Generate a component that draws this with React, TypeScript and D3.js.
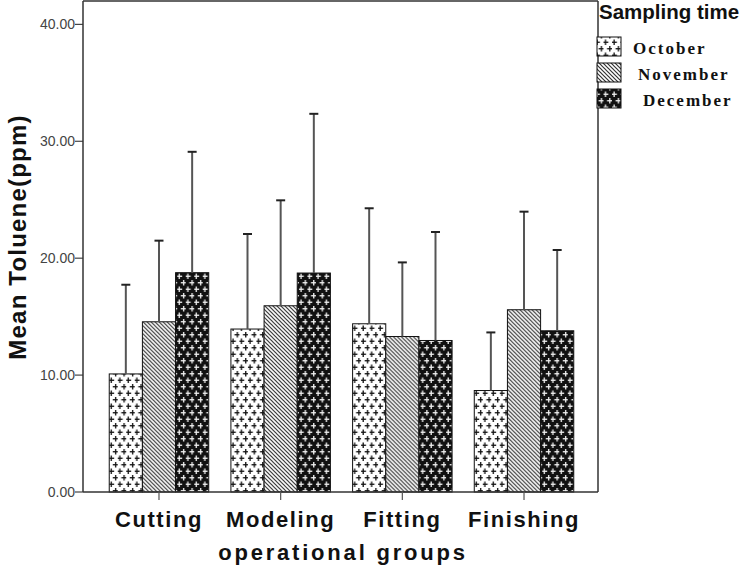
import React from "react";
import * as d3 from "d3";

const categories = ["Cutting", "Modeling", "Fitting", "Finishing"];
const months = ["October", "November", "December"];
const october = [10.1, 13.94, 14.39, 8.68];
const november = [14.56, 15.93, 13.3, 15.59];
const december = [18.76, 18.73, 12.96, 13.79];
const octoberErr = [7.63, 8.13, 9.88, 4.97];
const novemberErr = [6.94, 9.02, 6.34, 8.39];
const decemberErr = [10.34, 13.62, 9.28, 6.91];
const yTicks = [0, 10, 20, 30, 40];

const seriesValues = [october, november, december];
const seriesErrs = [octoberErr, novemberErr, decemberErr];
const patternIds = ["pOct", "pNov", "pDec"];

const W = 745;
const H = 569;
const left = 83;
const right = 598;
const top = 1;
const bottom = 492;

export default function App() {
  const y = d3.scaleLinear().domain([0, 42]).range([bottom, top]);
  const x = d3
    .scaleBand()
    .domain(categories)
    .range([left, 600])
    .paddingInner(0.1824)
    .paddingOuter(0.2157);
  const xi = d3.scaleBand().domain(months).range([0, x.bandwidth()]);
  const fmt = d3.format(".2f");
  const sans = "'Liberation Sans', Arial, sans-serif";
  const serif = "'Liberation Serif', 'Times New Roman', serif";

  const plus = (cx: number, cy: number, color: string, key: string) => (
    <g key={key} stroke={color} strokeWidth={1.3}>
      <line x1={cx - 2.8} x2={cx + 2.8} y1={cy} y2={cy} />
      <line x1={cx} x2={cx} y1={cy - 2.8} y2={cy + 2.8} />
    </g>
  );

  return (
    <svg
      width={W}
      height={H}
      style={{ position: "absolute", left: 0, top: 0, background: "#fff" }}
    >
      <defs>
        <pattern id="pOct" patternUnits="userSpaceOnUse" width={8.5} height={13}>
          <rect width={8.5} height={13} fill="#fff" />
          {plus(2.1, 3.25, "#111", "a")}
          {plus(6.35, 9.75, "#111", "b")}
        </pattern>
        <pattern id="pNov" patternUnits="userSpaceOnUse" width={4} height={4}>
          <rect width={4} height={4} fill="#fff" />
          <g stroke="#333" strokeWidth={1.2}>
            <line x1={0} y1={0} x2={4} y2={4} />
            <line x1={-1} y1={3} x2={1} y2={5} />
            <line x1={3} y1={-1} x2={5} y2={1} />
          </g>
        </pattern>
        <pattern id="pDec" patternUnits="userSpaceOnUse" width={8.5} height={13}>
          <rect width={8.5} height={13} fill="#111" />
          {plus(2.1, 3.25, "#f2f2f2", "a")}
          {plus(6.35, 9.75, "#f2f2f2", "b")}
        </pattern>
      </defs>

      {/* y ticks */}
      {yTicks.map((t) => (
        <g key={t}>
          <line x1={left - 8} x2={left} y1={y(t)} y2={y(t)} stroke="#444" strokeWidth={1.2} />
          <text
            x={left - 8}
            y={y(t)}
            dy="0.35em"
            textAnchor="end"
            fontFamily={sans}
            fontSize={14}
            fill="#444"
          >
            {fmt(t)}
          </text>
        </g>
      ))}

      {/* bars */}
      {categories.map((c, ci) => (
        <g key={c} transform={`translate(${x(c)},0)`}>
          {months.map((m, mi) => {
            const v = seriesValues[mi][ci];
            const e = seriesErrs[mi][ci];
            const bx = xi(m) as number;
            const cx = bx + xi.bandwidth() / 2;
            return (
              <g key={m}>
                <rect
                  x={bx}
                  y={y(v)}
                  width={xi.bandwidth()}
                  height={y(0) - y(v)}
                  fill={`url(#${patternIds[mi]})`}
                  stroke="#111"
                  strokeWidth={1}
                />
                <line x1={cx} x2={cx} y1={y(v)} y2={y(v + e)} stroke="#555" strokeWidth={2} />
                <line
                  x1={cx - 4.5}
                  x2={cx + 4.5}
                  y1={y(v + e)}
                  y2={y(v + e)}
                  stroke="#222"
                  strokeWidth={2}
                />
              </g>
            );
          })}
        </g>
      ))}

      {/* frame and axes */}
      <line x1={left} x2={left} y1={top} y2={bottom} stroke="#333" strokeWidth={1.5} />
      <line x1={left} x2={right} y1={bottom} y2={bottom} stroke="#333" strokeWidth={1.5} />
      <line x1={left} x2={right} y1={top} y2={top} stroke="#333" strokeWidth={1.5} />
      <line x1={right} x2={right} y1={top} y2={bottom} stroke="#333" strokeWidth={1.5} />

      {/* x ticks and labels */}
      {categories.map((c) => {
        const cx = (x(c) as number) + x.bandwidth() / 2;
        return (
          <g key={c}>
            <line x1={cx} x2={cx} y1={bottom} y2={bottom + 8} stroke="#555" strokeWidth={1.2} />
            <text
              x={cx}
              y={527}
              textAnchor="middle"
              fontFamily={sans}
              fontWeight="bold"
              fontSize={22}
              letterSpacing={1.6}
              fill="#111"
            >
              {c}
            </text>
          </g>
        );
      })}

      <text
        x={343}
        y={560}
        textAnchor="middle"
        fontFamily={sans}
        fontWeight="bold"
        fontSize={22}
        letterSpacing={2.8}
        fill="#111"
      >
        operational groups
      </text>

      <text
        transform="translate(26,237) rotate(-90)"
        textAnchor="middle"
        fontFamily={sans}
        fontWeight="bold"
        fontSize={24}
        letterSpacing={1.2}
        fill="#111"
      >
        Mean Toluene(ppm)
      </text>

      {/* legend */}
      <text
        x={599}
        y={19}
        fontFamily={sans}
        fontWeight="bold"
        fontSize={20.5}
        fill="#111"
      >
        Sampling time
      </text>
      {months.map((m, i) => {
        const sy = 37 + i * 26;
        return (
          <g key={m}>
            <rect
              x={597}
              y={sy}
              width={24}
              height={19}
              fill={`url(#${patternIds[i]})`}
              stroke="#111"
              strokeWidth={1}
            />
            <text
              x={633 + i * 5}
              y={sy + 17}
              fontFamily={serif}
              fontWeight="bold"
              fontSize={17}
              letterSpacing={2}
              fill="#111"
            >
              {m}
            </text>
          </g>
        );
      })}
    </svg>
  );
}
